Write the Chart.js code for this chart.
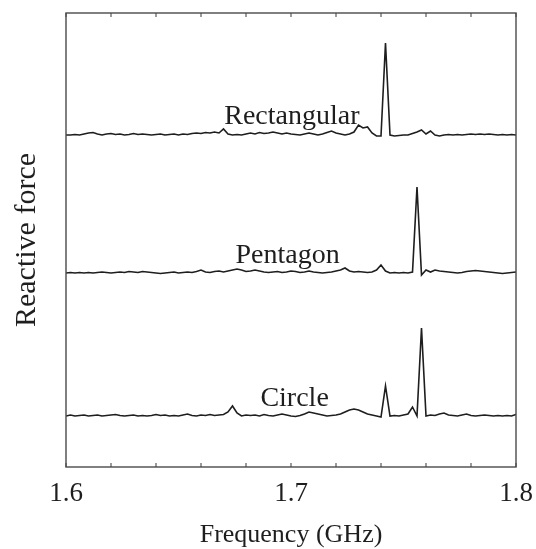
<!DOCTYPE html>
<html>
<head>
<meta charset="utf-8">
<script src="https://cdn.jsdelivr.net/npm/chart.js@4.4.1/dist/chart.umd.min.js"></script>
<style>
  html, body { margin: 0; padding: 0; background: #fff; }
  #wrap { width: 536px; height: 549px; }
</style>
</head>
<body>
<div id="wrap"><canvas id="chart" width="536" height="549"></canvas></div>
<script>
// frequency grid (GHz), one point every 0.002
const freq = [
  1.600, 1.602, 1.604, 1.606, 1.608, 1.610, 1.612, 1.614, 1.616, 1.618,
  1.620, 1.622, 1.624, 1.626, 1.628, 1.630, 1.632, 1.634, 1.636, 1.638,
  1.640, 1.642, 1.644, 1.646, 1.648, 1.650, 1.652, 1.654, 1.656, 1.658,
  1.660, 1.662, 1.664, 1.666, 1.668, 1.670, 1.672, 1.674, 1.676, 1.678,
  1.680, 1.682, 1.684, 1.686, 1.688, 1.690, 1.692, 1.694, 1.696, 1.698,
  1.700, 1.702, 1.704, 1.706, 1.708, 1.710, 1.712, 1.714, 1.716, 1.718,
  1.720, 1.722, 1.724, 1.726, 1.728, 1.730, 1.732, 1.734, 1.736, 1.738,
  1.740, 1.742, 1.744, 1.746, 1.748, 1.750, 1.752, 1.754, 1.756, 1.758,
  1.760, 1.762, 1.764, 1.766, 1.768, 1.770, 1.772, 1.774, 1.776, 1.778,
  1.780, 1.782, 1.784, 1.786, 1.788, 1.790, 1.792, 1.794, 1.796, 1.798,
  1.800
];

// reactive force of each shape (arbitrary units, relative to its own baseline)
const rectangular = [
  0, 0, 0.5, 0, 1, 2, 2.5, 1, 0, 1,
  1.5, 0.5, 1, 0, 0.5, 1.5, 0.5, 1, 0.5, 0,
  0.5, 1, 0, 0.5, 1, 0, 1, 0.5, 1.5, 2,
  1.5, 2.5, 2, 3, 2, 6, 1, 0, 0.5, 0,
  1, 2, 1, 2.5, 1.5, 2, 3, 2, 1, 2,
  1, 0.5, 0, 1, 2, 1, 0, 1, 2.5, 4,
  2, 1, 0, 1, 3, 10, 7, 8, 2, -1,
  -1, 92, 0, -1, -0.5, 0, 0, 1.5, 3, 5,
  1, 4, 0, -1, 0, 0.5, 0, 0.5, 0, 0.5,
  1, 0.5, 1, 0.5, 1, 0.5, 0, 0.5, 0, 0.5,
  0
];
const pentagon = [
  0, 0.5, 0, 0.5, 0, 0.5, 0, 0.5, 1, 0.5,
  0, 0.5, 1, 0.5, 1.5, 1, 0.5, 1.5, 1, 0.5,
  0, -0.5, 0, 0.5, 1, 0, 0.5, 1, 0.5, 1.5,
  3, 1, 0.5, 1.5, 2, 1, 2, 3, 4, 3,
  1.5, 2, 3, 2, 1, 0.5, 1, 1.5, 0.5, 1,
  2, 1.5, 0.5, 1, 2, 1, 0.5, 0, 0.5, 1,
  2, 3, 5, 2, 1, 1.5, 1, 0.5, 1, 3,
  8, 2, 0, 0.5, 0, 0.5, 0, 1, 86, -2,
  3, 1, 3, 2, 1.5, 1, 0.5, 0, 0.5, 1.5,
  2, 2.5, 2, 1.5, 1, 0.5, 0, -0.5, 0, 0.5,
  1
];
const circle = [
  0, 1, 0, 0.5, 1, 0, 0.5, 1, 0, 0.5,
  1, 1.5, 0.5, 0, 0.5, 1, 0, 0.5, 0, 0.5,
  1.5, 0.5, 1, 0, 0.5, 0, 1, 2, 0.5, 0,
  1, 0.5, 1.5, 0.5, 1, 1.5, 4, 10, 3, 0,
  1, 0.5, 1, 0, 1.5, 0.5, 0, 1, 2, 1,
  0, -0.5, 0.5, 2, 4, 3, 2, 1, 0, 0.5,
  1, 2, 4, 6, 7, 6, 4, 2, 1, 0,
  -1, 30, 0, 0.5, 0, 1, 2, 9, 0, 88,
  0, 1, 0.5, 2, 3, 1, 0.5, 0, 1, 2,
  0.5, 0, 0.5, 1, 0.5, 0, 0.5, 0, 0.5, 0,
  1.5
];

// vertical offset of each trace on the stacked plot
const traceNames = ['Rectangular', 'Pentagon', 'Circle'];
const traceOffsets = [332, 194, 51];
// label anchor (frequency, height) for each trace
const labelFreq = [1.7004, 1.6985, 1.7016];
const labelY = [343, 204, 61];

const xTicks = [1.6, 1.7, 1.8];
const FONT = "'Liberation Serif', 'Times New Roman', serif";
const INK = '#1e1e1e';

function toPoints(values, offset) {
    return values.map((v, i) => ({ x: freq[i], y: v + offset }));
}

// frame, inward tick marks and trace names
const decorPlugin = {
    id: 'decor',
    afterDatasetsDraw(chart) {
        const { ctx, chartArea: a, scales } = chart;
        ctx.save();
        ctx.strokeStyle = '#4a4a4a';
        ctx.lineWidth = 1.4;
        ctx.strokeRect(a.left, a.top, a.right - a.left, a.bottom - a.top);

        ctx.lineWidth = 1.1;
        scales.x.ticks.forEach(t => {
            const px = scales.x.getPixelForValue(t.value);
            ctx.beginPath();
            ctx.moveTo(px, a.bottom);
            ctx.lineTo(px, a.bottom - 4);
            ctx.moveTo(px, a.top);
            ctx.lineTo(px, a.top + 4);
            ctx.stroke();
        });

        ctx.fillStyle = INK;
        ctx.font = `28px ${FONT}`;
        ctx.textAlign = 'center';
        ctx.textBaseline = 'alphabetic';
        traceNames.forEach((name, i) => {
            const px = scales.x.getPixelForValue(labelFreq[i]);
            const py = scales.y.getPixelForValue(labelY[i]);
            ctx.fillText(name, px, py);
        });
        ctx.restore();
    }
};

function renderChart() {
    const ctx = document.getElementById('chart').getContext('2d');

    const datasets = traceNames.map((name, i) => ({
        label: name,
        data: toPoints([rectangular, pentagon, circle][i], traceOffsets[i]),
        borderColor: INK,
        borderWidth: 1.6,
        pointRadius: 0,
        tension: 0,
        fill: false
    }));

    new Chart(ctx, {
        type: 'line',
        data: { datasets },
        options: {
            responsive: false,
            animation: false,
            events: [],
            layout: { padding: { left: 0, right: 20, top: 13, bottom: 0 } },
            plugins: { legend: { display: false }, tooltip: { enabled: false } },
            scales: {
                x: {
                    type: 'linear',
                    min: 1.6,
                    max: 1.8,
                    grid: { display: false, drawTicks: false },
                    border: { display: false },
                    ticks: {
                        stepSize: 0.02,
                        autoSkip: false,
                        maxRotation: 0,
                        padding: 11,
                        color: INK,
                        font: { family: FONT, size: 27 },
                        callback: v => {
                            const hit = xTicks.find(t => Math.abs(t - v) < 1e-6);
                            return hit !== undefined ? hit.toFixed(1) : '';
                        }
                    },
                    title: {
                        display: true,
                        text: 'Frequency (GHz)',
                        color: INK,
                        font: { family: FONT, size: 26, lineHeight: 1 },
                        padding: { top: 0, bottom: 1 }
                    },
                    afterFit: s => {
                        s.height = 82;
                        s.paddingLeft = 0;
                        s.paddingRight = 0;
                    }
                },
                y: {
                    min: 0,
                    max: 454,
                    grid: { display: false, drawTicks: false },
                    border: { display: false },
                    ticks: { display: false },
                    title: {
                        display: true,
                        text: 'Reactive force',
                        color: INK,
                        font: { family: FONT, size: 30 },
                        padding: { top: 9, bottom: 0 }
                    },
                    afterFit: s => { s.width = 66; }
                }
            }
        },
        plugins: [decorPlugin]
    });
}

window.onload = renderChart;
</script>
</body>
</html>
